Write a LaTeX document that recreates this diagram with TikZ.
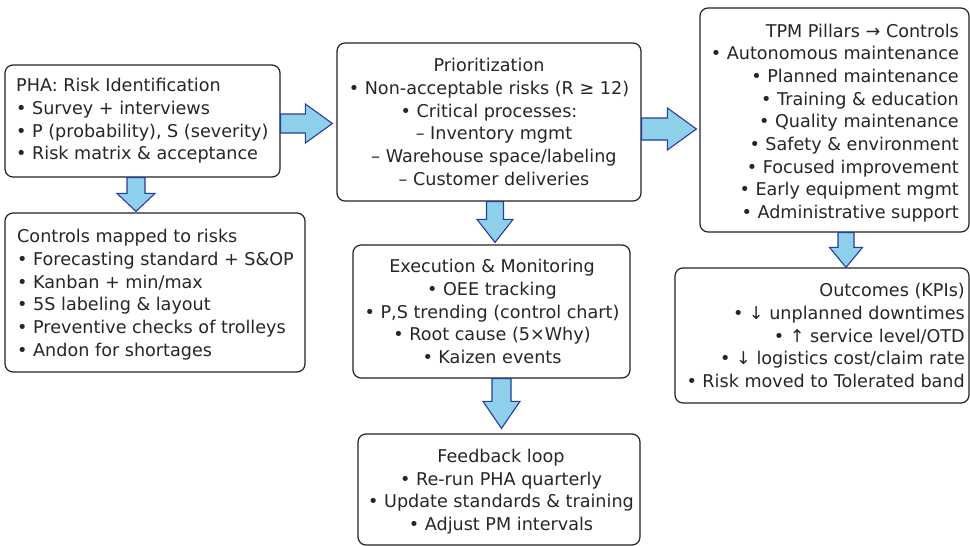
\documentclass[tikz,border=0pt]{standalone}
\usepackage{fontspec}
\setmainfont{DejaVu Sans}
\usetikzlibrary{calc}
\definecolor{arrfill}{RGB}{142,207,234}
\definecolor{arredge}{RGB}{40,60,160}
\definecolor{boxedge}{RGB}{34,34,34}
\tikzset{
  box/.style={draw=boxedge, line width=1.2pt, rounded corners=8pt, inner sep=0pt},
  txt/.style={inner sep=0pt, font=\fontsize{17.6}{22.7}\selectfont, text=black!85},
  fat/.style={draw=arredge, fill=arrfill, line width=1.1pt, line join=miter}
}
\newcommand\blockR[5]{%
  \draw[fat] let \p1=(#1), \p2=(#2) in
  (\x1,{\y1+#3}) -- ({\x2-#5},{\y1+#3}) -- ({\x2-#5},{\y1+#4}) -- (\x2,\y1) --
  ({\x2-#5},{\y1-#4}) -- ({\x2-#5},{\y1-#3}) -- (\x1,{\y1-#3}) -- cycle;}
\newcommand\blockD[5]{%
  \draw[fat] let \p1=(#1), \p2=(#2) in
  ({\x1-#3},\y1) -- ({\x1-#3},{\y2+#5}) -- ({\x1-#4},{\y2+#5}) -- (\x1,\y2) --
  ({\x1+#4},{\y2+#5}) -- ({\x1+#3},{\y2+#5}) -- ({\x1+#3},\y1) -- cycle;}
\begin{document}
\begin{tikzpicture}[x=1pt,y=-1pt]
\useasboundingbox (0,0) rectangle (970,546);
\fill[white] (0,0) rectangle (970,546);
% boxes
\node[box, minimum width=275pt, minimum height=112pt] (pha) at (142.5,121) {};
\node[box, minimum width=300pt, minimum height=159pt] (ctrl) at (155,292.5) {};
\node[box, minimum width=304pt, minimum height=158pt] (prio) at (489,122) {};
\node[box, minimum width=277pt, minimum height=133pt] (exec) at (491.5,311.5) {};
\node[box, minimum width=282pt, minimum height=111pt] (fb) at (499,489.5) {};
\node[box, minimum width=269pt, minimum height=224pt] (tpm) at (834.5,120) {};
\node[box, minimum width=294pt, minimum height=135pt] (out) at (822,335.5) {};
% texts
\node[txt, anchor=west, align=left] (phaT) at (16,121) {PHA: Risk Identification\\
• Survey + interviews\\
• P (probability), S (severity)\\
• Risk matrix \& acceptance};
\node[txt, anchor=west, align=left] (ctrlT) at (17,294.5) {Controls mapped to risks\\
• Forecasting standard + S\&OP\\
• Kanban + min/max\\
• 5S labeling \& layout\\
• Preventive checks of trolleys\\
• Andon for shortages};
\node[txt, align=center] (prioT) at (489,122) {Prioritization\\
• Non-acceptable risks (R ≥ 12)\\
• Critical processes:\\
\hspace*{10pt}– Inventory mgmt\\
\hspace*{10pt}– Warehouse space/labeling\\
\hspace*{10pt}– Customer deliveries};
\node[txt, align=center] (execT) at (492,311.5) {Execution \& Monitoring\\
• OEE tracking\\
• P,S trending (control chart)\\
• Root cause (5×Why)\\
• Kaizen events};
\node[txt, align=center] (fbT) at (501,491.5) {Feedback loop\\
• Re-run PHA quarterly\\
• Update standards \& training\\
• Adjust PM intervals};
\node[txt, anchor=east, align=right] (tpmT) at (959,123) {TPM Pillars → Controls\\
• Autonomous maintenance\\
• Planned maintenance\\
• Training \& education\\
• Quality maintenance\\
• Safety \& environment\\
• Focused improvement\\
• Early equipment mgmt\\
• Administrative support};
\node[txt, anchor=east, align=right] (outT) at (965,335.5) {Outcomes (KPIs)\\
• ↓ unplanned downtimes\\
• ↑ service level/OTD\\
• ↓ logistics cost/claim rate\\
• Risk moved to Tolerated band};
% arrow end points
\coordinate (a1s) at ($(pha.east)+(0,2.5)$);
\coordinate (a1e) at ($(prio.west |- a1s)+(-4,0)$);
\coordinate (a2s) at ($(prio.east)+(0,7)$);
\coordinate (a2e) at ($(tpm.west |- a2s)+(-3,0)$);
\coordinate (a3s) at ($(pha.south)+(-6.5,0)$);
\coordinate (a3e) at ($(a3s |- ctrl.north)+(0,-1)$);
\coordinate (a4s) at ($(prio.south)+(6,0)$);
\coordinate (a4e) at ($(a4s |- exec.north)+(0,-2)$);
\coordinate (a5s) at ($(exec.south)+(10,0)$);
\coordinate (a5e) at ($(a5s |- fb.north)+(0,-5)$);
\coordinate (a6s) at ($(tpm.south)+(11.5,0)$);
\coordinate (a6e) at ($(a6s |- out.north)$);
% block arrows
\blockR{a1s}{a1e}{9.5pt}{19.5pt}{27pt}
\blockR{a2s}{a2e}{11pt}{21pt}{29pt}
\blockD{a3s}{a3e}{9pt}{19pt}{18pt}
\blockD{a4s}{a4e}{8.5pt}{18pt}{23pt}
\blockD{a5s}{a5e}{9.5pt}{18.5pt}{27pt}
\blockD{a6s}{a6e}{8pt}{16.5pt}{20pt}
\end{tikzpicture}
\end{document}
